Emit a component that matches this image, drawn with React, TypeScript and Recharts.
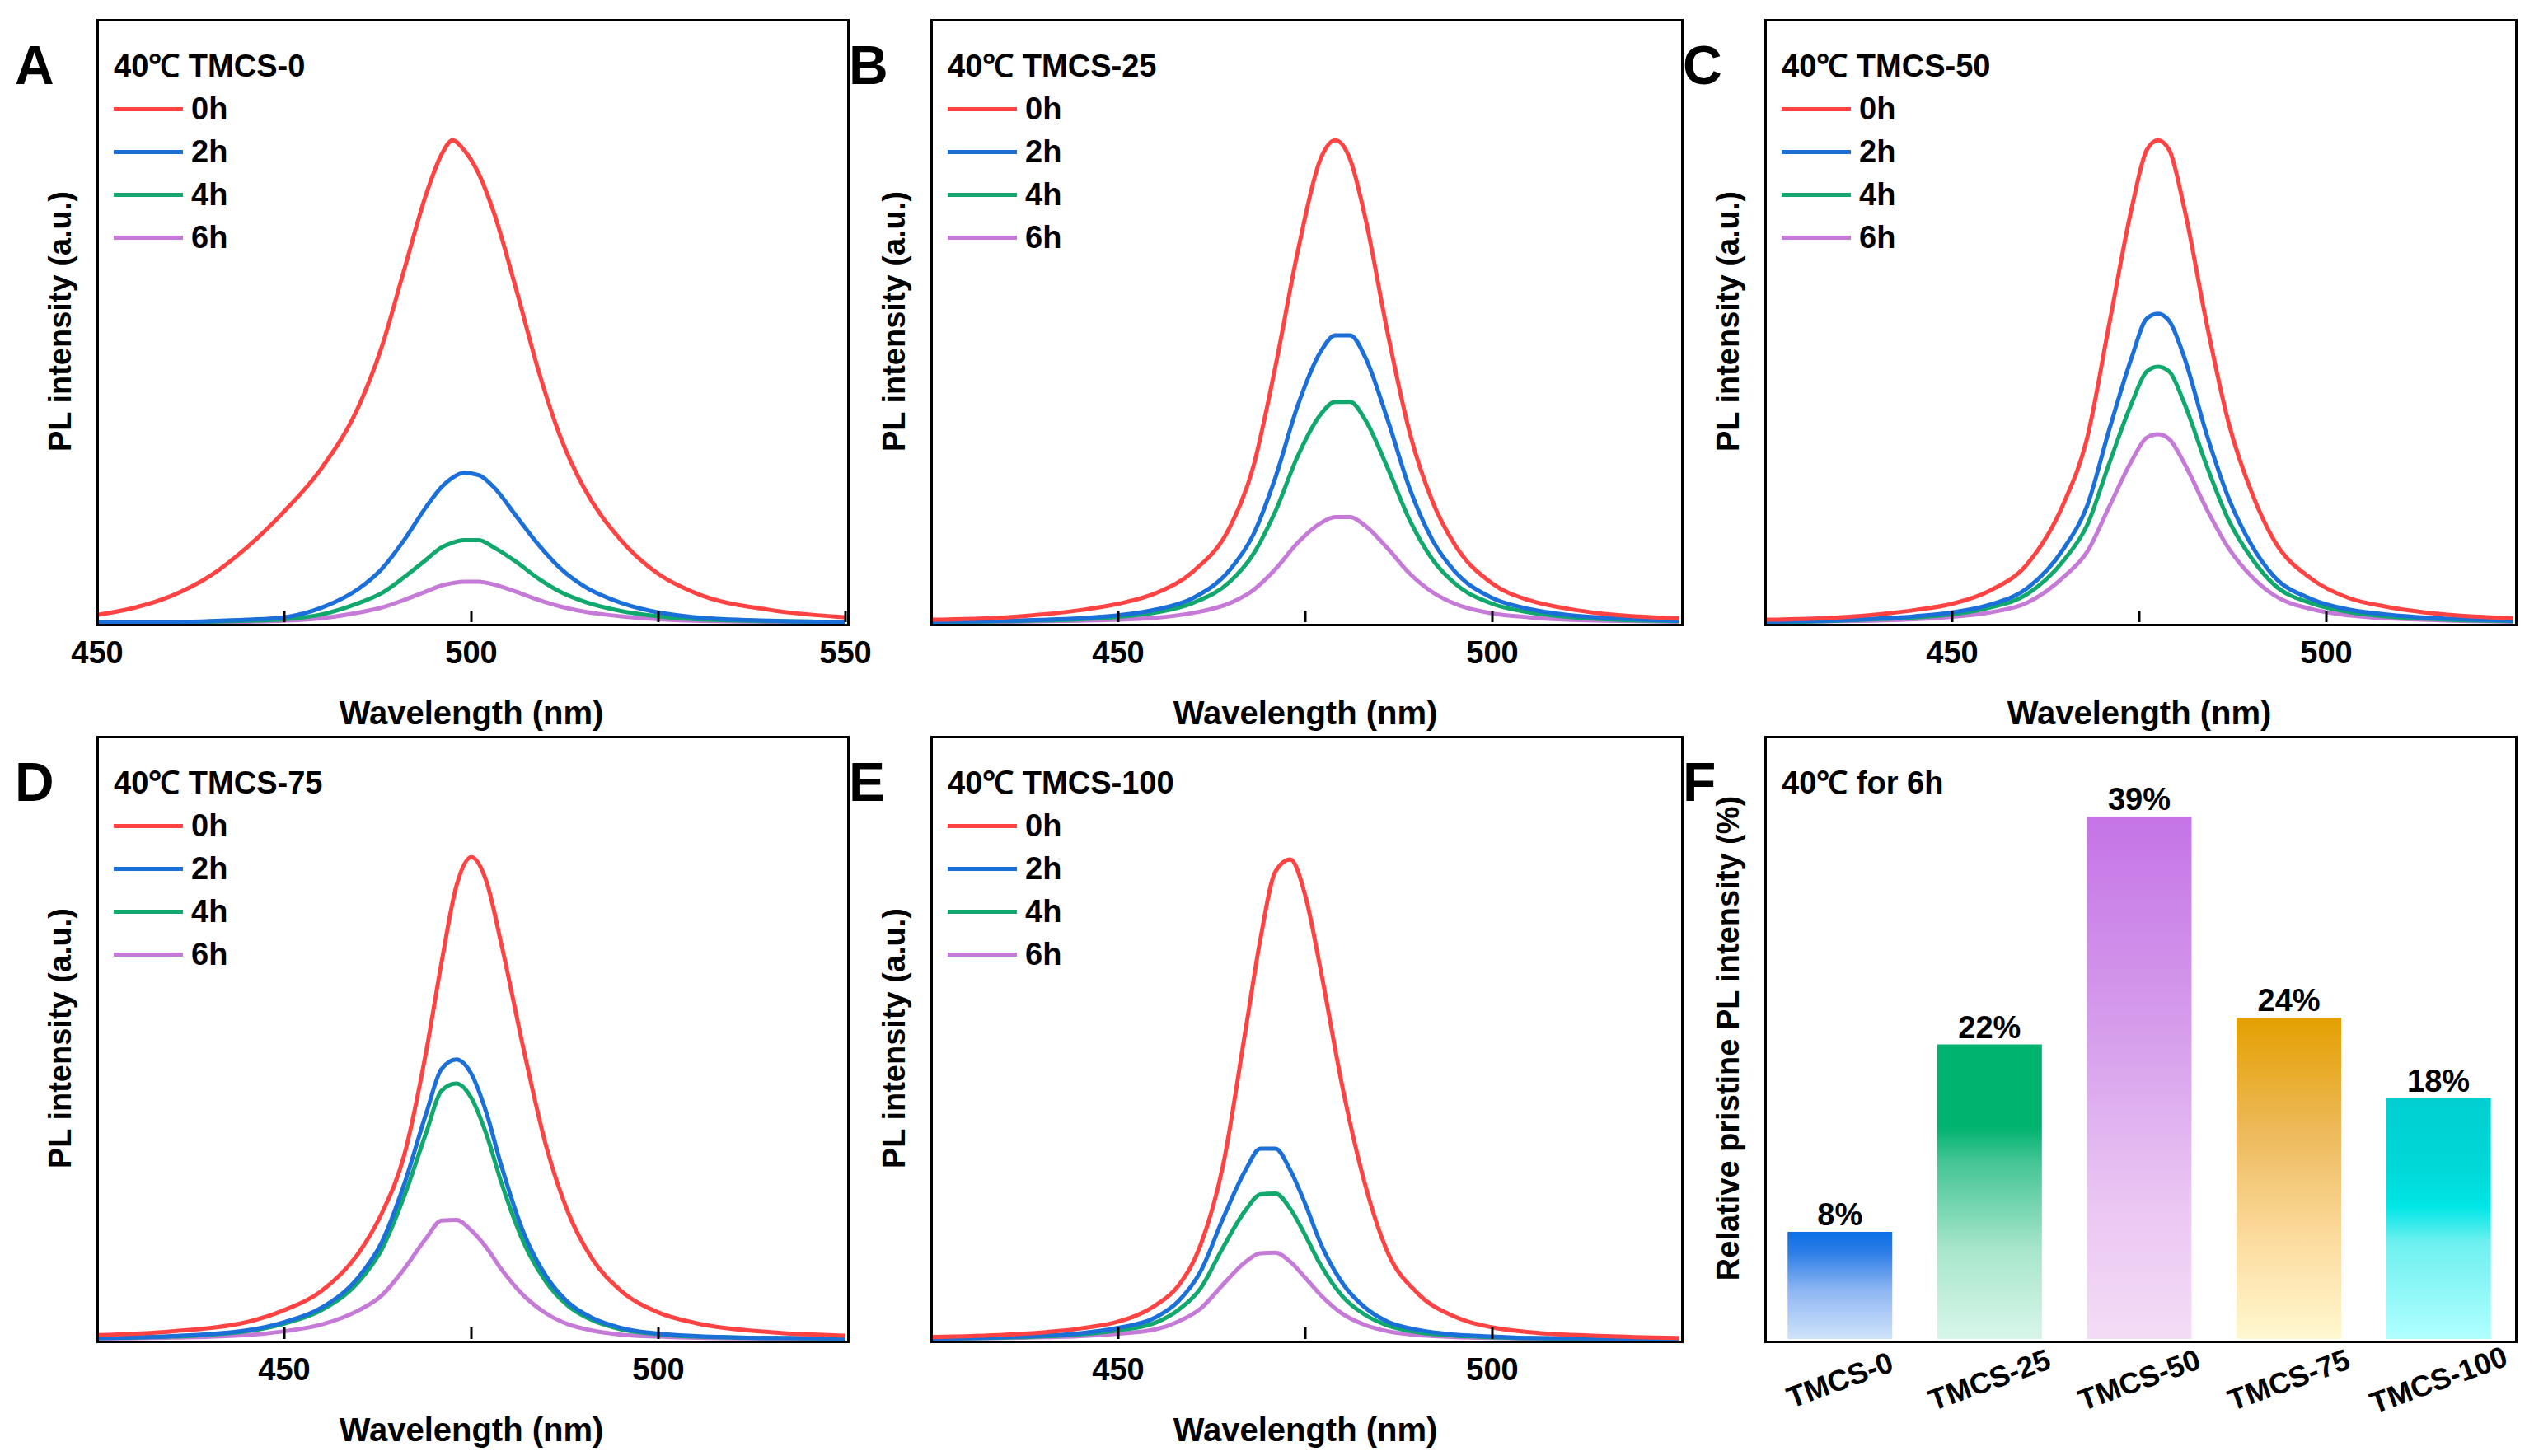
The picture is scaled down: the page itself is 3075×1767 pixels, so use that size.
import React from "react";
import { LineChart, Line, XAxis, YAxis, BarChart, Bar, Cell, LabelList } from "recharts";

// wavelength grids (nm) and PL intensity (a.u., 0h peak = 100)
const waveA = [450, 455, 460, 465, 470, 475, 480, 485, 488, 491, 494, 496, 497.5, 499, 501, 503, 506, 509, 512, 515, 520, 525, 530, 540, 550];
const a0h = [1.5, 3, 5.5, 9.5, 15.5, 23, 32, 45, 57, 73, 89, 97, 100, 98, 93, 85, 69, 52, 38, 28, 17, 10, 6, 2.5, 1];
const a2h = [0, 0, 0, 0.2, 0.5, 1, 3, 7, 11, 17, 24, 28, 30, 31, 30.5, 28, 22, 16, 11, 7.5, 4, 2, 1, 0.3, 0];
const a4h = [0, 0, 0, 0.1, 0.3, 0.6, 1.6, 4, 6, 9.3, 13, 15.5, 16.5, 17, 17, 15.5, 12.5, 9, 6.2, 4.3, 2.3, 1.2, 0.6, 0.2, 0];
const a6h = [0, 0, 0, 0, 0.1, 0.3, 0.8, 2, 3, 4.6, 6.4, 7.6, 8.1, 8.4, 8.4, 7.8, 6.3, 4.6, 3.2, 2.2, 1.2, 0.6, 0.3, 0.1, 0];

const waveB = [425, 435, 445, 450, 455, 460, 465, 468, 471, 474, 477, 479, 481, 483, 486, 489, 492, 495, 500, 505, 510, 515, 525];
const b0h = [0.5, 1, 2.5, 3.8, 6, 10.5, 20, 32, 53, 77, 96, 100, 96, 84, 60, 39, 25, 16, 8, 4.5, 2.8, 1.7, 0.8];
const b2h = [0.1, 0.3, 0.8, 1.4, 2.6, 5, 11, 18, 30, 45, 56, 59.5, 59.5, 55, 42, 27.5, 17, 10.5, 5, 2.7, 1.5, 0.9, 0.3];
const b4h = [0, 0.2, 0.6, 1.1, 2, 4, 8.5, 14, 23, 34.5, 43, 45.7, 45.7, 42, 32, 21, 13, 8, 3.8, 2, 1.1, 0.6, 0.2];
const b6h = [0, 0.1, 0.3, 0.5, 0.9, 1.9, 4, 6.6, 11, 16.5, 20.5, 21.8, 21.8, 20, 15.3, 10, 6.2, 3.8, 1.8, 1, 0.5, 0.3, 0.1];

const waveC = [425, 435, 445, 450, 455, 460, 465, 468, 471, 474, 476, 477.5, 479, 481, 484, 487, 490, 493, 498, 503, 508, 515, 525];
const c0h = [0.5, 1, 2.5, 3.8, 6.5, 12, 25, 38, 62, 86, 98, 100, 98, 86, 62, 41, 27, 17, 9, 5, 3.2, 1.7, 0.8];
const c2h = [0.1, 0.4, 1.2, 2, 3.6, 7, 15.5, 24, 40, 55, 63, 64, 62.5, 55, 39, 25.5, 16, 9.5, 4.8, 2.6, 1.6, 0.8, 0.3];
const c4h = [0, 0.3, 1, 1.6, 3, 5.8, 13, 20, 33, 45.5, 52, 53, 52, 45.5, 32.5, 21, 13.3, 7.8, 3.9, 2.1, 1.2, 0.6, 0.2];
const c6h = [0, 0.2, 0.6, 1.1, 2, 4, 9.5, 14.5, 24, 33.5, 38.3, 39, 38, 33, 23.5, 15.2, 9.5, 5.6, 2.7, 1.4, 0.8, 0.4, 0.1];

const waveD = [425, 435, 445, 450, 455, 460, 463, 466, 469, 471, 473, 475, 477, 479, 482, 485, 488, 491, 495, 500, 505, 515, 525];
const d0h = [0.8, 1.6, 3.5, 6, 10, 18, 26, 38, 60, 78, 94, 100, 95, 82, 60, 40, 26, 17, 10, 5.5, 3.3, 1.4, 0.7];
const d2h = [0.2, 0.6, 1.8, 3.5, 6.5, 13, 20, 32, 47, 56, 58, 55, 47, 36, 22, 13, 7.5, 4.5, 2.3, 1.1, 0.6, 0.2, 0.1];
const d4h = [0.2, 0.5, 1.6, 3.2, 6, 12, 18.5, 29.5, 43, 51.5, 53, 50, 42.5, 32.5, 20, 11.8, 6.8, 4, 2, 1, 0.5, 0.2, 0.1];
const d6h = [0.1, 0.3, 0.8, 1.6, 3, 6, 9, 14.5, 21, 24.6, 24.7, 22.5, 19, 14.5, 9, 5.3, 3, 1.8, 0.9, 0.5, 0.25, 0.1, 0];

const waveE = [425, 435, 445, 450, 455, 458, 461, 464, 467, 469, 471, 473, 475, 477, 480, 483, 486, 490, 495, 500, 505, 515, 525];
const e0h = [0.4, 0.9, 2.2, 3.6, 7, 11, 19.5, 36, 64, 83, 97, 99.5, 92, 77, 52, 32, 18, 9.5, 4.6, 2.4, 1.4, 0.6, 0.2];
const e2h = [0.1, 0.4, 1.2, 2.3, 4.5, 7.8, 14, 25, 35, 39.5, 39.5, 35, 28, 20, 11.5, 6.5, 3.6, 1.9, 0.9, 0.5, 0.2, 0.1, 0];
const e4h = [0.1, 0.3, 1, 1.8, 3.4, 6, 10.5, 19, 26.7, 30, 30.2, 27, 21.5, 15.5, 8.8, 5, 2.8, 1.4, 0.7, 0.35, 0.15, 0, 0];
const e6h = [0, 0.2, 0.6, 1.1, 2, 3.6, 6.3, 11.3, 16, 17.8, 17.9, 16, 12.7, 9.2, 5.2, 2.9, 1.6, 0.8, 0.4, 0.2, 0.1, 0, 0];

const seriesNames = ["0h", "2h", "4h", "6h"];
const seriesColors = ["#ff4343", "#1a6fd8", "#10a86c", "#c67ad8"];

const samples = ["TMCS-0", "TMCS-25", "TMCS-50", "TMCS-75", "TMCS-100"];
const retention = [8, 22, 39, 24, 18];
const barStops = [
  [["#0a6fe6", 0], ["#2f7fe8", 0.2], ["#8fb6f2", 0.55], ["#cfe3fb", 1]],
  [["#00b36e", 0], ["#00b36e", 0.28], ["#45c596", 0.4], ["#a8e6cb", 0.7], ["#d8f6ea", 1]],
  [["#c574e6", 0], ["#d59ceb", 0.4], ["#ebc7f3", 0.75], ["#f4dcf6", 1]],
  [["#e4a000", 0], ["#edb95a", 0.35], ["#fcdca0", 0.7], ["#fff8d0", 1]],
  [["#00cfd0", 0], ["#00d8d8", 0.3], ["#00e6e6", 0.45], ["#6ef0f0", 0.6], ["#b0ffff", 1]],
];

const FONT = "'Liberation Sans', Arial, sans-serif";

const panels = [
  { key: "A", title: "40\u2103 TMCS-0", wave: waveA, ys: [a0h, a2h, a4h, a6h], domain: [450, 550], ticks: [450, 475, 500, 525, 550], left: 118, top: 24 },
  { key: "B", title: "40\u2103 TMCS-25", wave: waveB, ys: [b0h, b2h, b4h, b6h], domain: [425, 525], ticks: [450, 475, 500], left: 1130, top: 24 },
  { key: "C", title: "40\u2103 TMCS-50", wave: waveC, ys: [c0h, c2h, c4h, c6h], domain: [425, 525], ticks: [450, 475, 500], left: 2142, top: 24 },
  { key: "D", title: "40\u2103 TMCS-75", wave: waveD, ys: [d0h, d2h, d4h, d6h], domain: [425, 525], ticks: [450, 475, 500], left: 118, top: 894 },
  { key: "E", title: "40\u2103 TMCS-100", wave: waveE, ys: [e0h, e2h, e4h, e6h], domain: [425, 525], ticks: [450, 475, 500], left: 1130, top: 894 },
];

const PW = 908;
const PH = 731;
const PAD = 60;

function WaveTick(props: any) {
  const { x, y, payload } = props;
  return (
    <g>
      <line x1={x} x2={x} y1={y} y2={y - 14} stroke="#000" strokeWidth={3} />
      {payload.value % 50 === 0 && (
        <text x={x} y={y + 50} textAnchor="middle" fontSize={38} fontWeight="bold" fontFamily={FONT} fill="#000">
          {payload.value}
        </text>
      )}
    </g>
  );
}

function SampleTick(props: any) {
  const { x, y, payload } = props;
  return (
    <text x={x} y={y + 62} textAnchor="middle" fontSize={36} fontWeight="bold" fontFamily={FONT} fill="#000"
      transform={`rotate(-20 ${x} ${y + 50})`}>
      {payload.value}
    </text>
  );
}

function Frame({ left, top }: { left: number; top: number }) {
  return (
    <div style={{ position: "absolute", left: left - 1.5, top: top - 1.5, width: PW, height: PH, border: "3px solid #000", pointerEvents: "none" }} />
  );
}

function YTitle({ x, y, text }: { x: number; y: number; text: string }) {
  return (
    <div style={{ position: "absolute", left: x, top: y, transform: "translate(-50%,-50%) rotate(-90deg)", whiteSpace: "nowrap", fontFamily: FONT, fontWeight: "bold", fontSize: 38 }}>
      {text}
    </div>
  );
}

function Letter({ x, y, text }: { x: number; y: number; text: string }) {
  return (
    <div style={{ position: "absolute", left: x, top: y, fontFamily: FONT, fontWeight: "bold", fontSize: 66, lineHeight: 1 }}>{text}</div>
  );
}

function SpectrumPanel({ p }: { p: any }) {
  const data = p.wave.map((w: number, i: number) => ({ w, s0: p.ys[0][i], s1: p.ys[1][i], s2: p.ys[2][i], s3: p.ys[3][i] }));
  return (
    <>
      <div style={{ position: "absolute", left: p.left - PAD, top: p.top }}>
        <LineChart width={PW + 2 * PAD} height={PH + 80} data={data} margin={{ top: 0, right: PAD, left: PAD, bottom: 0 }}>
          <XAxis dataKey="w" type="number" domain={p.domain} ticks={p.ticks} allowDataOverflow height={80}
            axisLine={false} tickLine={false} tickSize={0} tickMargin={0} tick={<WaveTick />} interval={0} />
          <YAxis hide domain={[0, 125]} />
          {seriesNames.map((n, i) => (
            <Line key={n} dataKey={`s${3 - i}`} type="monotone" stroke={seriesColors[3 - i]} strokeWidth={5} dot={false} isAnimationActive={false} />
          ))}
        </LineChart>
      </div>
      <Frame left={p.left} top={p.top} />
      <div style={{ position: "absolute", left: p.left + 20, top: p.top + 30, fontFamily: FONT, fontWeight: "bold", fontSize: 38, lineHeight: "52px" }}>
        <div>{p.title}</div>
        {seriesNames.map((n, i) => (
          <div key={n} style={{ display: "flex", alignItems: "center" }}>
            <span style={{ display: "inline-block", width: 84, height: 5, background: seriesColors[i], marginRight: 10 }} />
            {n}
          </div>
        ))}
      </div>
      <div style={{ position: "absolute", left: p.left, width: PW, top: p.top + PH + 88, textAlign: "center", fontFamily: FONT, fontWeight: "bold", fontSize: 40 }}>
        Wavelength (nm)
      </div>
      <YTitle x={p.left - 45} y={p.top + PH / 2} text="PL intensity (a.u.)" />
      <Letter x={p.left - 100} y={p.top + 22} text={p.key} />
    </>
  );
}

export default function App() {
  const barData = samples.map((s, i) => ({ name: s, value: retention[i] }));
  const fLeft = 2142;
  const fTop = 894;
  return (
    <div style={{ position: "absolute", left: 0, top: 0, width: 3075, height: 1767, background: "#fff", overflow: "hidden" }}>
      {panels.map((p) => <SpectrumPanel key={p.key} p={p} />)}

      <div style={{ position: "absolute", left: fLeft - PAD, top: fTop }}>
        <BarChart width={PW + 2 * PAD} height={PH + 160} data={barData} barCategoryGap="15%" margin={{ top: 0, right: PAD, left: PAD, bottom: 0 }}>
          <defs>
            {barStops.map((stops, i) => (
              <linearGradient key={i} id={`bg${i}`} x1="0" y1="0" x2="0" y2="1">
                {stops.map(([c, o], j) => <stop key={j} offset={o as number} stopColor={c as string} />)}
              </linearGradient>
            ))}
          </defs>
          <XAxis dataKey="name" height={160} axisLine={false} tickLine={false} tickSize={0} tickMargin={0} tick={<SampleTick />} interval={0} />
          <YAxis hide domain={[0, 45]} />
          <Bar dataKey="value" isAnimationActive={false}>
            {barData.map((d, i) => <Cell key={d.name} fill={`url(#bg${i})`} />)}
            <LabelList dataKey="value" position="top" offset={8} formatter={(v: any) => `${v}%`}
              style={{ fontSize: 38, fontWeight: "bold", fontFamily: FONT, fill: "#000" }} />
          </Bar>
        </BarChart>
      </div>
      <Frame left={fLeft} top={fTop} />
      <div style={{ position: "absolute", left: fLeft + 20, top: fTop + 30, fontFamily: FONT, fontWeight: "bold", fontSize: 38, lineHeight: "52px" }}>
        {"40\u2103 for 6h"}
      </div>
      <YTitle x={fLeft - 45} y={fTop + PH / 2} text="Relative pristine PL intensity (%)" />
      <Letter x={fLeft - 100} y={fTop + 22} text="F" />
    </div>
  );
}
